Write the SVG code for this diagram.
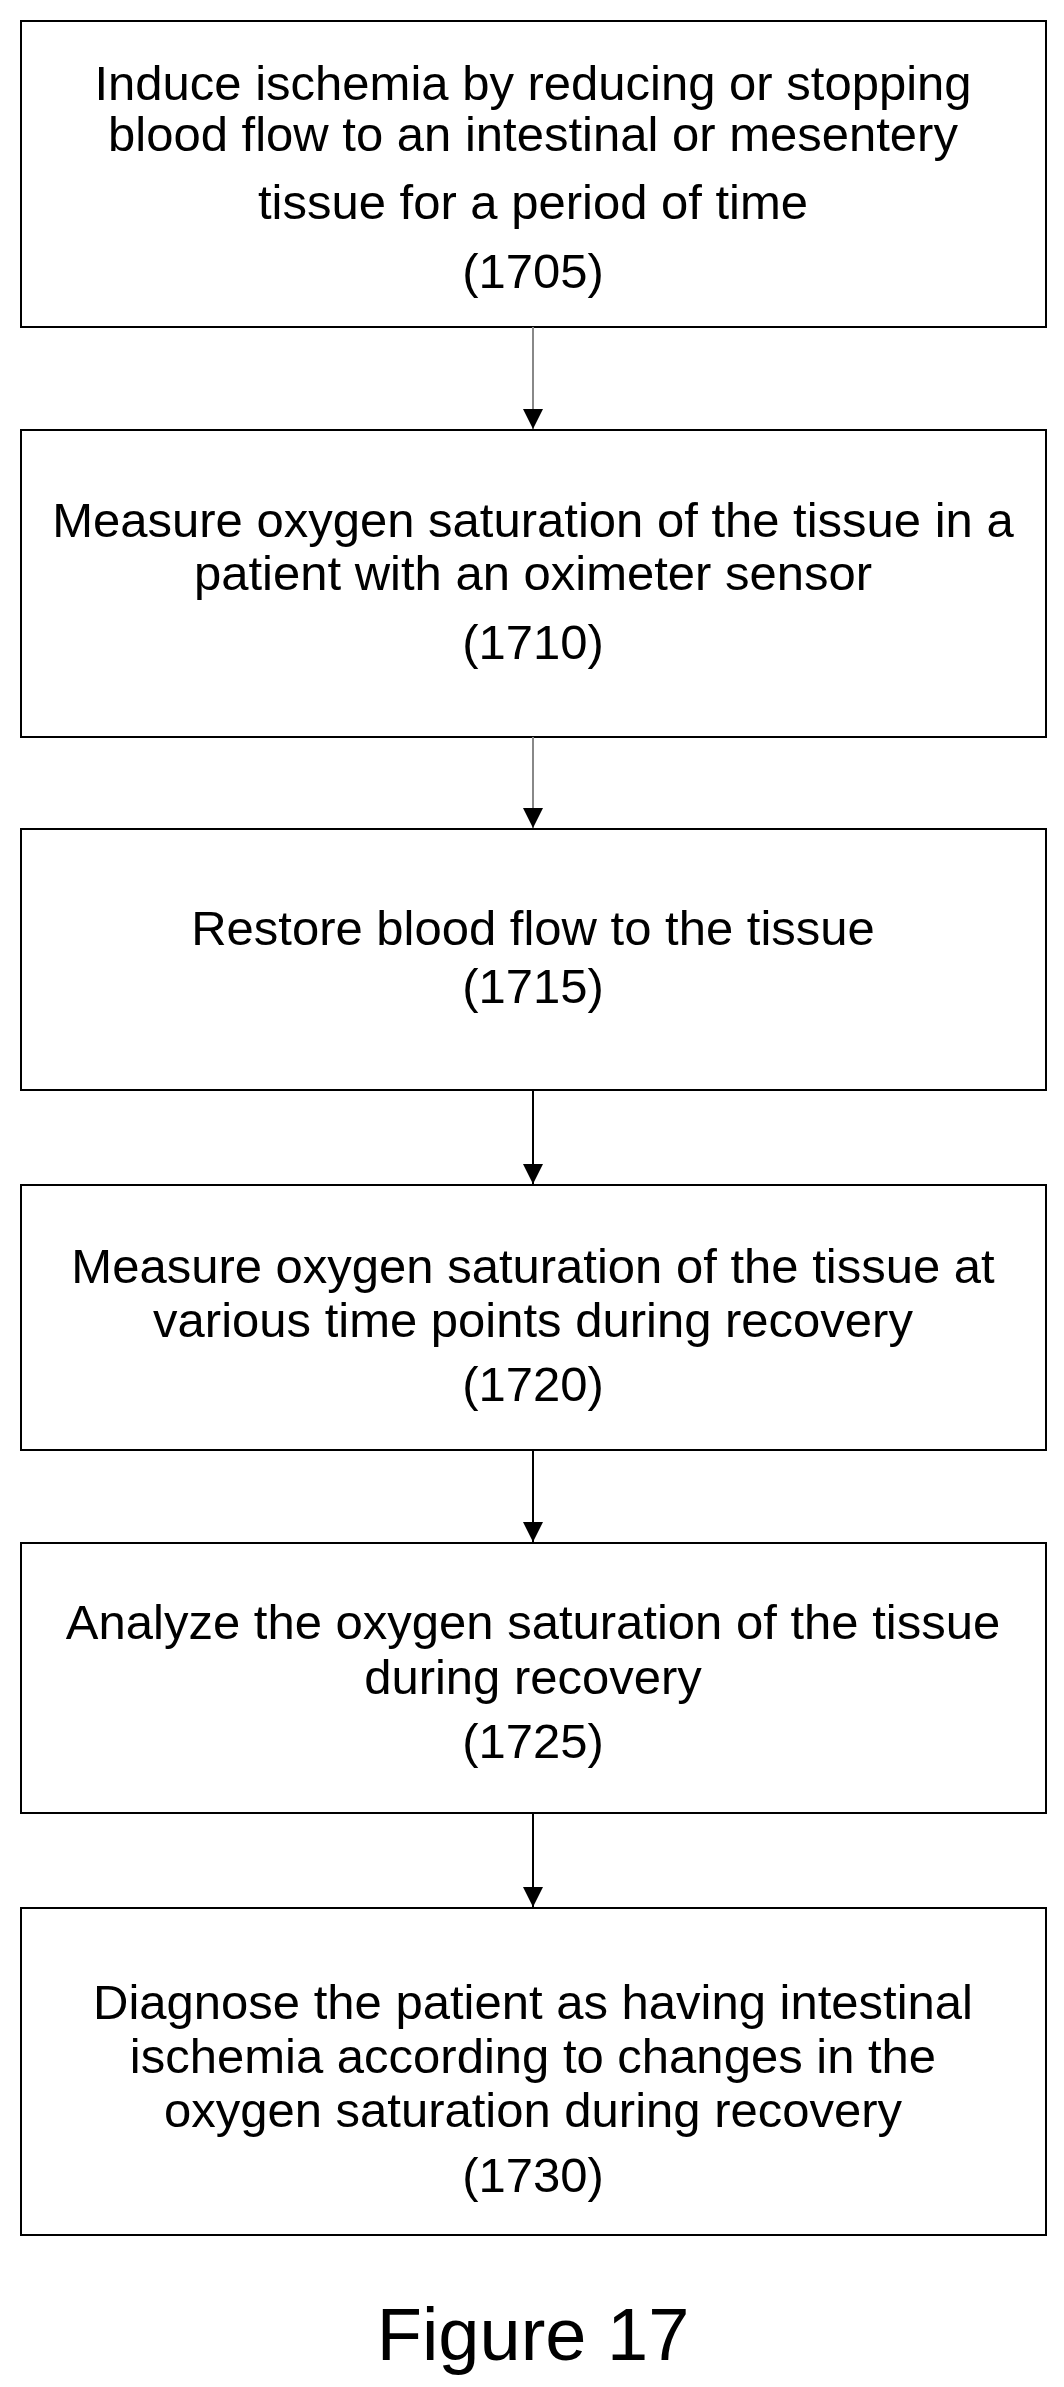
<svg xmlns="http://www.w3.org/2000/svg" width="1064" height="2387" viewBox="0 0 1064 2387">
<style>
.b{fill:#fff;stroke:#000;stroke-width:2}
text{font-family:"Liberation Sans",Arial,sans-serif;font-size:49px;text-anchor:middle;fill:#000}
.c{stroke:#000;stroke-width:2;fill:none}
.g{stroke:#888}
</style>
<defs><marker id="a" markerWidth="20" markerHeight="26" refX="20" refY="10" orient="auto" markerUnits="userSpaceOnUse"><path d="M0,0L26,10L0,20z" transform="scale(0.77,1)" fill="#000"/></marker></defs>
<rect width="1064" height="2387" fill="#fff"/>
<g id="n1"><rect class="b" x="21" y="21" width="1025" height="306"/>
<text x="533" y="100">Induce ischemia by reducing or stopping</text><text x="533" y="151">blood flow to an intestinal or mesentery</text><text x="533" y="219">tissue for a period of time</text><text x="533" y="288">(1705)</text></g>
<g id="n2"><rect class="b" x="21" y="430" width="1025" height="307"/>
<text x="533" y="537">Measure oxygen saturation of the tissue in a</text><text x="533" y="590">patient with an oximeter sensor</text><text x="533" y="659">(1710)</text></g>
<g id="n3"><rect class="b" x="21" y="829" width="1025" height="261"/>
<text x="533" y="945">Restore blood flow to the tissue</text><text x="533" y="1003">(1715)</text></g>
<g id="n4"><rect class="b" x="21" y="1185" width="1025" height="265"/>
<text x="533" y="1283">Measure oxygen saturation of the tissue at</text><text x="533" y="1337">various time points during recovery</text><text x="533" y="1401">(1720)</text></g>
<g id="n5"><rect class="b" x="21" y="1543" width="1025" height="270"/>
<text x="533" y="1639">Analyze the oxygen saturation of the tissue</text><text x="533" y="1694">during recovery</text><text x="533" y="1758">(1725)</text></g>
<g id="n6"><rect class="b" x="21" y="1908" width="1025" height="327"/>
<text x="533" y="2019">Diagnose the patient as having intestinal</text><text x="533" y="2073">ischemia according to changes in the</text><text x="533" y="2127">oxygen saturation during recovery</text><text x="533" y="2192">(1730)</text></g>
<g id="connectors">
<line class="c g" x1="533" y1="327" x2="533" y2="429" marker-end="url(#a)"/>
<line class="c g" x1="533" y1="737" x2="533" y2="828" marker-end="url(#a)"/>
<line class="c" x1="533" y1="1090" x2="533" y2="1184" marker-end="url(#a)"/>
<line class="c" x1="533" y1="1450" x2="533" y2="1542" marker-end="url(#a)"/>
<line class="c" x1="533" y1="1813" x2="533" y2="1907" marker-end="url(#a)"/>
</g>
<text x="533" y="2360" style="font-size:74px">Figure 17</text>
</svg>
